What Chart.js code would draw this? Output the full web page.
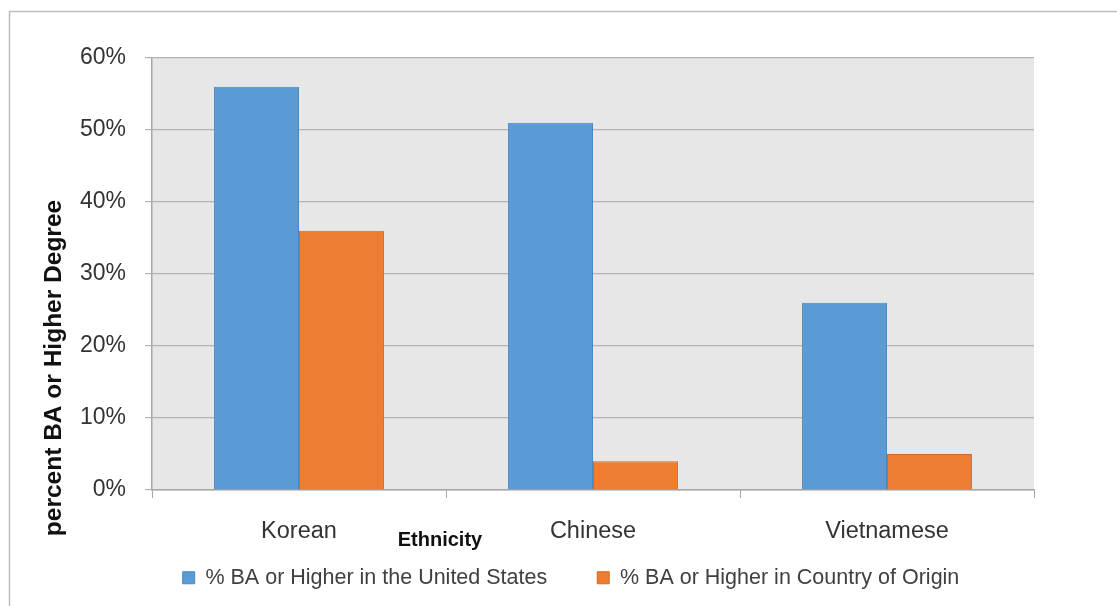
<!DOCTYPE html>
<html>
<head>
<meta charset="utf-8">
<script src="https://cdn.jsdelivr.net/npm/chart.js@4/dist/chart.umd.min.js"></script>
<style>
  html, body { margin: 0; padding: 0; background: #ffffff; }
  #wrap { width: 1117px; height: 606px; }
</style>
</head>
<body>
<div id="wrap"><canvas id="chart" width="1117" height="606"></canvas></div>
<script>
// Share of adults holding a BA or higher degree, by ethnicity
const categories = ['Korean', 'Chinese', 'Vietnamese'];
const usShare = [56, 51, 26];        // % BA or higher in the United States
const originShare = [36, 4, 5];      // % BA or higher in country of origin
const seriesNames = ['% BA or Higher in the United States', '% BA or Higher in Country of Origin'];
const yAxisTitle = 'percent BA or Higher Degree';
const xAxisTitle = 'Ethnicity';
const yTickValues = [0, 10, 20, 30, 40, 50, 60];

const FONT = "'Liberation Sans', Arial, sans-serif";
const TEXT = '#333333';
const LEGEND_GAP = 50;

// Frame, plot background, the two axis titles and the legend placement
const decorations = {
  id: 'decorations',
  afterLayout(chart) {
    // legend row sits below the axis title, centred a little left of the plot
    const lg = chart.legend, a = chart.chartArea;
    if (!lg) return;
    lg.top = a.bottom + 27;
    lg.bottom = lg.top + 100;
    lg.left = 108;
    lg.right = a.right;
  },
  beforeDraw(chart) {
    const { ctx, chartArea: a } = chart;
    ctx.save();
    ctx.fillStyle = '#ffffff';
    ctx.fillRect(0, 0, chart.width, chart.height);
    ctx.strokeStyle = '#bdbdbd';
    ctx.lineWidth = 1.5;
    ctx.strokeRect(9.5, 11.5, chart.width + 50, chart.height + 50);
    ctx.fillStyle = '#e7e7e7';
    ctx.fillRect(a.left, a.top, a.right - a.left, a.bottom - a.top);
    ctx.restore();
  },
  afterDraw(chart) {
    const { ctx, chartArea: a } = chart;
    ctx.save();
    ctx.fillStyle = '#111111';
    ctx.textAlign = 'center';
    ctx.textBaseline = 'middle';
    ctx.font = "bold 20px " + FONT;
    ctx.fillText(xAxisTitle, a.left + (a.right - a.left) * 0.3265, a.bottom + 50);
    ctx.translate(a.left - 98, a.bottom - 122);
    ctx.rotate(-Math.PI / 2);
    ctx.font = "bold 24.5px " + FONT;
    ctx.fillText(yAxisTitle, 0, 0);
    ctx.restore();
  }
};

new Chart(document.getElementById('chart'), {
  type: 'bar',
  data: {
    labels: categories,
    datasets: [
      {
        label: seriesNames[0],
        data: usShare,
        backgroundColor: '#5b9bd5',
        borderColor: '#4a88c2',
        borderWidth: 1
      },
      {
        label: seriesNames[1],
        data: originShare,
        backgroundColor: '#ed7d31',
        borderColor: '#d06a25',
        borderWidth: 1
      }
    ]
  },
  options: {
    responsive: false,
    animation: false,
    categoryPercentage: 0.578,
    barPercentage: 1.0,
    layout: { padding: { left: 9, right: 83, top: 58, bottom: 16 } },
    plugins: {
      tooltip: { enabled: false },
      legend: {
        position: 'bottom',
        maxHeight: 40,
        labels: {
          boxWidth: 12,
          boxHeight: 12,
          padding: LEGEND_GAP,
          color: '#404040',
          font: { family: FONT, size: 21.5 }
        }
      }
    },
    scales: {
      x: {
        grid: {
          offset: true,
          drawOnChartArea: false,
          drawTicks: true,
          tickLength: 8,
          color: '#a6a6a6'
        },
        border: { color: '#a6a6a6', width: 1.5 },
        ticks: {
          color: TEXT,
          font: { family: FONT, size: 23.5 },
          padding: 19,
          maxRotation: 0,
          autoSkip: false
        },
        afterFit(scale) { scale.height = 60; }
      },
      y: {
        min: 0,
        max: 60,
        afterBuildTicks(scale) { scale.ticks = yTickValues.map(v => ({ value: v })); },
        grid: { color: '#b3b3b3', tickLength: 7, lineWidth: 1.2 },
        border: { color: '#a6a6a6', width: 1.5 },
        ticks: {
          color: TEXT,
          font: { family: FONT, size: 23 },
          padding: 19,
          callback: v => v + '%'
        },
        afterFit(scale) { scale.width = 143; }
      }
    }
  },
  plugins: [decorations]
});
</script>
</body>
</html>
